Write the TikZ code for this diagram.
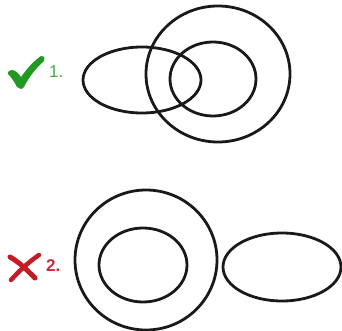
\documentclass[tikz,border=0pt]{standalone}
\usepackage{fontspec}
\setsansfont{Liberation Sans}
\usetikzlibrary{shapes.geometric}
\definecolor{okgreen}{HTML}{229A22}
\definecolor{okgreentxt}{HTML}{45A845}
\definecolor{badred}{HTML}{C41C24}
\definecolor{badredtxt}{HTML}{CC2A3C}
\tikzset{
  ring/.style={draw=black!90, line width=2.8pt, ellipse, inner sep=0pt, fill=none},
  lbl/.style={font=\sffamily\fontsize{17}{17}\selectfont, inner sep=0pt, anchor=west}
}
\begin{document}
\begin{tikzpicture}[x=1pt,y=-1pt]
\useasboundingbox (0,0) rectangle (342,331);
% top group
\node[ring, minimum width=144pt, minimum height=136pt] (big1) at (218,74) {};
\node[ring, minimum width=86pt, minimum height=74pt] (in1) at (213,79) {};
\node[ring, minimum width=118pt, minimum height=66pt] (ell1) at (142,80) {};
% bottom group
\node[ring, minimum width=142pt, minimum height=140pt] (big2) at (146,260) {};
\node[ring, minimum width=88pt, minimum height=74pt] (in2) at (143,265) {};
\node[ring, minimum width=118pt, minimum height=68pt] (ell2) at (282,267) {};
% check mark
\fill[okgreen] (8,72) .. controls (12,68) and (16,70) .. (21,77)
  .. controls (28,67) and (35,60) .. (41,56)
  .. controls (45,56) and (45,59) .. (44,61)
  .. controls (36,68) and (29,77) .. (24,87)
  .. controls (22,90) and (19,89) .. (17,87)
  .. controls (14,81) and (11,77) .. (8,74) -- cycle;
\node[lbl, text=okgreentxt] (t1) at (49,72) {1.};
% cross
\draw[badred, line width=5pt, line cap=round] (10,257) .. controls (19,262) and (27,270) .. (35,278);
\draw[badred, line width=4.5pt, line cap=round] (39,255) .. controls (30,261) and (20,270) .. (11,280);
\node[lbl, text=badredtxt, font=\sffamily\bfseries\fontsize{17}{17}\selectfont] (t2) at (46,266) {2.};
\end{tikzpicture}
\end{document}
